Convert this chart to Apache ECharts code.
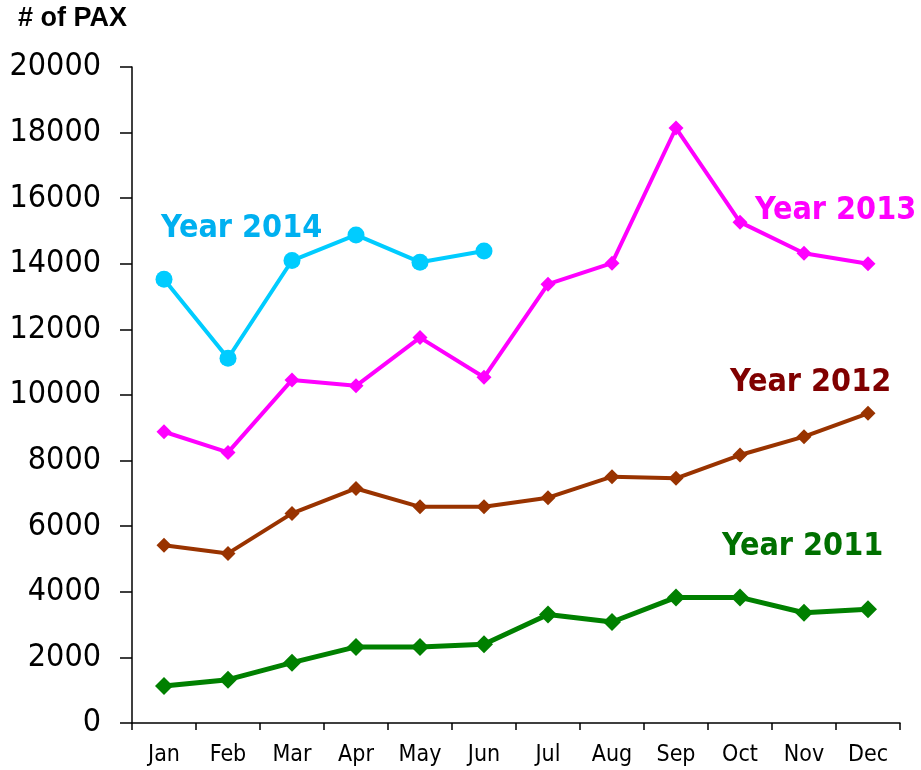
<!DOCTYPE html>
<html>
<head>
<meta charset="utf-8">
<script src="https://cdn.jsdelivr.net/npm/echarts@6/dist/echarts.min.js"></script>
<style>
html,body{margin:0;padding:0;background:#fff;}
#chart{width:921px;height:770px;}
</style>
</head>
<body>
<div id="chart"></div>
<script>
var months = ['Jan','Feb','Mar','Apr','May','Jun','Jul','Aug','Sep','Oct','Nov','Dec'];
var yTicks = [0,2000,4000,6000,8000,10000,12000,14000,16000,18000,20000];
var y2011 = [1130,1320,1840,2320,2320,2400,3310,3080,3830,3830,3360,3470];
var y2012 = [5420,5170,6390,7150,6590,6590,6870,7510,7460,8170,8730,9440];
var y2013 = [8880,8250,10460,10280,11750,10540,13380,14020,18140,15270,14320,14000];
var y2014 = [13530,11120,14100,14880,14050,14390];

var F = '"DejaVu Sans Condensed","DejaVu Sans",sans-serif';
var chart = echarts.init(document.getElementById('chart'));
chart.setOption({
  animation:false,
  backgroundColor:'#ffffff',
  grid:{left:132,right:21,top:67,bottom:47},
  xAxis:{
    type:'category', data:months, boundaryGap:true,
    axisLine:{lineStyle:{color:'#000',width:1.5}},
    axisTick:{show:true,length:7,lineStyle:{color:'#000',width:1.5}},
    axisLabel:{color:'#000',fontFamily:F,fontSize:23,margin:21}
  },
  yAxis:{
    type:'value', min:yTicks[0], max:yTicks[yTicks.length-1], interval:2000,
    splitLine:{show:false},
    axisLine:{show:true,lineStyle:{color:'#000',width:1.5}},
    axisTick:{show:true,length:12,lineStyle:{color:'#000',width:1.5}},
    axisLabel:{color:'#000',fontFamily:F,fontSize:32,margin:31,
      formatter:function(v){return String(v);}}
  },
  graphic:[
    {type:'text',left:18,top:5,style:{text:'# of PAX',fontFamily:'"Liberation Sans",Arial,sans-serif',fontWeight:'bold',fontSize:27,fill:'#000'}},
    {type:'text',left:161,top:213,style:{text:'Year 2014',fontFamily:F,fontWeight:'bold',fontSize:32,fill:'#00B0F0'}},
    {type:'text',left:755,top:195,style:{text:'Year 2013',fontFamily:F,fontWeight:'bold',fontSize:32,fill:'#FF00FF'}},
    {type:'text',left:730,top:367,style:{text:'Year 2012',fontFamily:F,fontWeight:'bold',fontSize:32,fill:'#800000'}},
    {type:'text',left:722,top:531,style:{text:'Year 2011',fontFamily:F,fontWeight:'bold',fontSize:32,fill:'#007000'}}
  ],
  series:[
    {name:'Year 2011',type:'line',data:y2011,symbol:'diamond',symbolSize:18,
     lineStyle:{color:'#008000',width:5},itemStyle:{color:'#008000'}},
    {name:'Year 2012',type:'line',data:y2012,symbol:'diamond',symbolSize:15,
     lineStyle:{color:'#993300',width:4},itemStyle:{color:'#993300'}},
    {name:'Year 2013',type:'line',data:y2013,symbol:'diamond',symbolSize:15,
     lineStyle:{color:'#FF00FF',width:4},itemStyle:{color:'#FF00FF'}},
    {name:'Year 2014',type:'line',data:y2014,symbol:'circle',symbolSize:17,
     lineStyle:{color:'#00CCFF',width:4},itemStyle:{color:'#00CCFF'}}
  ]
});
</script>
</body>
</html>
